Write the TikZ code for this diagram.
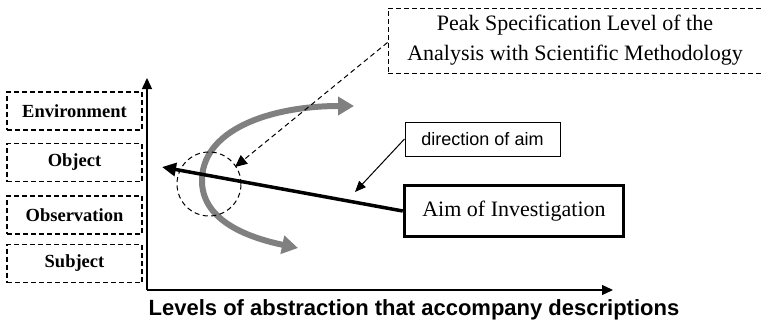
\documentclass[tikz,border=0pt]{standalone}
\usepackage{fontspec}
\setmainfont{Liberation Serif}
\setsansfont{Liberation Sans}
\usetikzlibrary{arrows.meta}
\begin{document}
\begin{tikzpicture}[x=1pt,y=-1pt,
    level/.style={draw, dash pattern=on 5pt off 3pt, line width=1.2pt, minimum width=135pt, minimum height=38pt, inner sep=0pt, font=\fontsize{18.5}{20}\selectfont\bfseries},
    axis/.style={line width=1.4pt, -{Triangle[length=11pt,width=10pt]}}]
    \useasboundingbox (0,0) rectangle (761,324);
    \node[level] (env) at (74.5,111) {Environment};
    \node[level] (obj) at (74.5,162.5) {Object};
    \node[level] (obs) at (74.5,215) {Observation};
    \node[level] (subj) at (74.5,263.5) {Subject};

    \coordinate (origin) at (147,290);
    \coordinate (ytip) at (147,78);
    \coordinate (xtip) at (613,290);
    \draw[axis] (origin) -- (ytip);
    \draw[axis] (origin) -- (xtip);
    \node[font=\fontsize{22}{24}\selectfont\sffamily\bfseries] (xlabel) at (414,310) {Levels of abstraction that accompany descriptions};

    \draw[black!50, line width=6pt, {Triangle[length=16pt,width=18pt]}-{Triangle[length=16pt,width=18pt]}]
        (354,106) .. controls (270,106) and (200,130) .. (202,183) .. controls (204,222) and (250,238) .. (298,248);
    \draw[dash pattern=on 5pt off 3.5pt, line width=1pt] (209,184) circle (32pt);

    \node[draw, dash pattern=on 5pt off 3pt, line width=1pt, minimum width=374pt, minimum height=65pt, align=center, font=\fontsize{22}{30}\selectfont] (peak) at (575,40.5) {Peak Specification Level of the\\Analysis with Scientific Methodology};
    \node[draw, line width=1pt, minimum width=155pt, minimum height=34pt, font=\fontsize{18}{20}\selectfont\sffamily] (dir) at (482.5,139) {direction of aim};
    \node[draw, line width=3.5pt, minimum width=219pt, minimum height=51pt, font=\fontsize{22}{24}\selectfont] (aim) at (514,211) {Aim of Investigation};

    \coordinate (aimtip) at (162,167);
    \coordinate (peaktip) at (235,167);
    \coordinate (dirtip) at (355,192);
    \draw[line width=3.5pt, -{Triangle[length=14pt,width=13pt]}] (aim.west) -- (aimtip);
    \draw[dash pattern=on 5pt off 3.5pt, line width=1pt, -{Triangle[length=12pt,width=11pt]}] (peak.west) ++(0,2) -- (peaktip);
    \draw[line width=1pt, -{Triangle[length=11pt,width=9pt]}] (dir.west) -- (dirtip);
\end{tikzpicture}
\end{document}
